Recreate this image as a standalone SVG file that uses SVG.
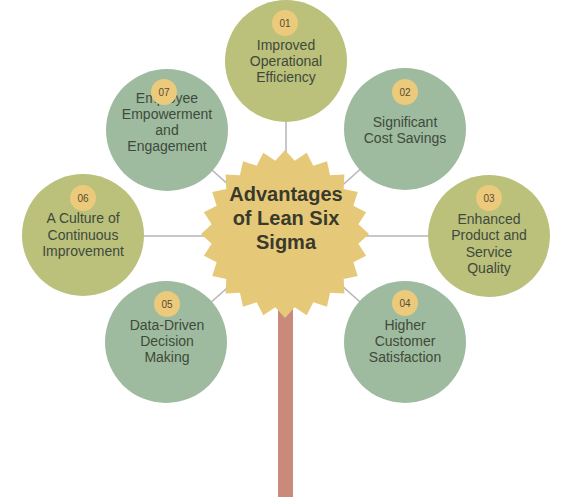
<svg xmlns="http://www.w3.org/2000/svg" width="568" height="497" viewBox="0 0 568 497">
<style>
.olive{fill:#bbc07b}
.sage{fill:#9ebb9f}
.badge{fill:#ebca7c}
.lbl{font-family:"Liberation Sans",Arial,sans-serif;font-size:14px;fill:#3e4a3b;text-anchor:middle}
.num{font-family:"Liberation Sans",Arial,sans-serif;font-size:10px;fill:#5b4a2e;text-anchor:middle}
.title{font-family:"Liberation Sans",Arial,sans-serif;font-size:20px;font-weight:bold;fill:#3a3a2c;text-anchor:middle}
.conn{stroke:#b5b5b8;stroke-width:1.5}
</style>
<rect width="568" height="497" fill="#ffffff"/>
<g id="connectors">
<line class="conn" x1="286" y1="236" x2="286" y2="61"/>
<line class="conn" x1="286" y1="236" x2="405" y2="129"/>
<line class="conn" x1="286" y1="236" x2="489" y2="236"/>
<line class="conn" x1="286" y1="236" x2="405" y2="342"/>
<line class="conn" x1="286" y1="236" x2="166" y2="342"/>
<line class="conn" x1="286" y1="236" x2="83" y2="236"/>
<line class="conn" x1="286" y1="236" x2="167" y2="130"/>
</g>
<g id="trunk"><rect x="278" y="300" width="15" height="197" fill="#c98a7b"/></g>
<g id="center">
<polygon fill="#e6c978" points="285,150 294.66,160.64 306.74,152.86 313.32,165.63 327,161.25 330.05,175.29 344.4,174.6 343.71,188.95 357.75,192 353.37,205.68 366.14,212.26 358.36,224.34 369,234 358.36,243.66 366.14,255.74 353.37,262.32 357.75,276 343.71,279.05 344.4,293.4 330.05,292.71 327,306.75 313.32,302.37 306.74,315.14 294.66,307.36 285,318 275.34,307.36 263.26,315.14 256.68,302.37 243,306.75 239.95,292.71 225.6,293.4 226.29,279.05 212.25,276 216.63,262.32 203.86,255.74 211.64,243.66 201,234 211.64,224.34 203.86,212.26 216.63,205.68 212.25,192 226.29,188.95 225.6,174.6 239.95,175.29 243,161.25 256.68,165.63 263.26,152.86 275.34,160.64"/>
<text class="title" x="286" y="201">Advantages</text>
<text class="title" x="286" y="225">of Lean Six</text>
<text class="title" x="286" y="249">Sigma</text>
</g>
<g id="node01">
<circle class="olive" cx="286" cy="61" r="61"/>
<circle class="badge" cx="285" cy="23" r="13"/>
<text class="num" x="285" y="27">01</text>
<text class="lbl" x="286" y="50">Improved</text>
<text class="lbl" x="286" y="66">Operational</text>
<text class="lbl" x="286" y="82">Efficiency</text>
</g>
<g id="node02">
<circle class="sage" cx="405" cy="129" r="61"/>
<circle class="badge" cx="405" cy="92" r="13"/>
<text class="num" x="405" y="96">02</text>
<text class="lbl" x="405" y="127">Significant</text>
<text class="lbl" x="405" y="143">Cost Savings</text>
</g>
<g id="node03">
<circle class="olive" cx="489" cy="236" r="61"/>
<circle class="badge" cx="489" cy="198" r="13"/>
<text class="num" x="489" y="202">03</text>
<text class="lbl" x="489" y="224">Enhanced</text>
<text class="lbl" x="489" y="240">Product and</text>
<text class="lbl" x="489" y="257">Service</text>
<text class="lbl" x="489" y="273">Quality</text>
</g>
<g id="node04">
<circle class="sage" cx="405" cy="342" r="61"/>
<circle class="badge" cx="405" cy="303" r="13"/>
<text class="num" x="405" y="307">04</text>
<text class="lbl" x="405" y="330">Higher</text>
<text class="lbl" x="405" y="346">Customer</text>
<text class="lbl" x="405" y="362">Satisfaction</text>
</g>
<g id="node05">
<circle class="sage" cx="166" cy="342" r="61"/>
<circle class="badge" cx="167" cy="304" r="13"/>
<text class="num" x="167" y="308">05</text>
<text class="lbl" x="167" y="330">Data-Driven</text>
<text class="lbl" x="167" y="346">Decision</text>
<text class="lbl" x="167" y="362">Making</text>
</g>
<g id="node06">
<circle class="olive" cx="83" cy="235" r="61"/>
<circle class="badge" cx="83" cy="198" r="13"/>
<text class="num" x="83" y="202">06</text>
<text class="lbl" x="83" y="223">A Culture of</text>
<text class="lbl" x="83" y="240">Continuous</text>
<text class="lbl" x="83" y="256">Improvement</text>
</g>
<g id="node07">
<circle class="sage" cx="167" cy="130" r="61"/>
<text class="lbl" x="167" y="103">Employee</text>
<text class="lbl" x="167" y="119">Empowerment</text>
<text class="lbl" x="167" y="135">and</text>
<text class="lbl" x="167" y="151">Engagement</text>
<circle class="badge" cx="164" cy="92" r="13"/>
<text class="num" x="164" y="96">07</text>
</g>
</svg>
